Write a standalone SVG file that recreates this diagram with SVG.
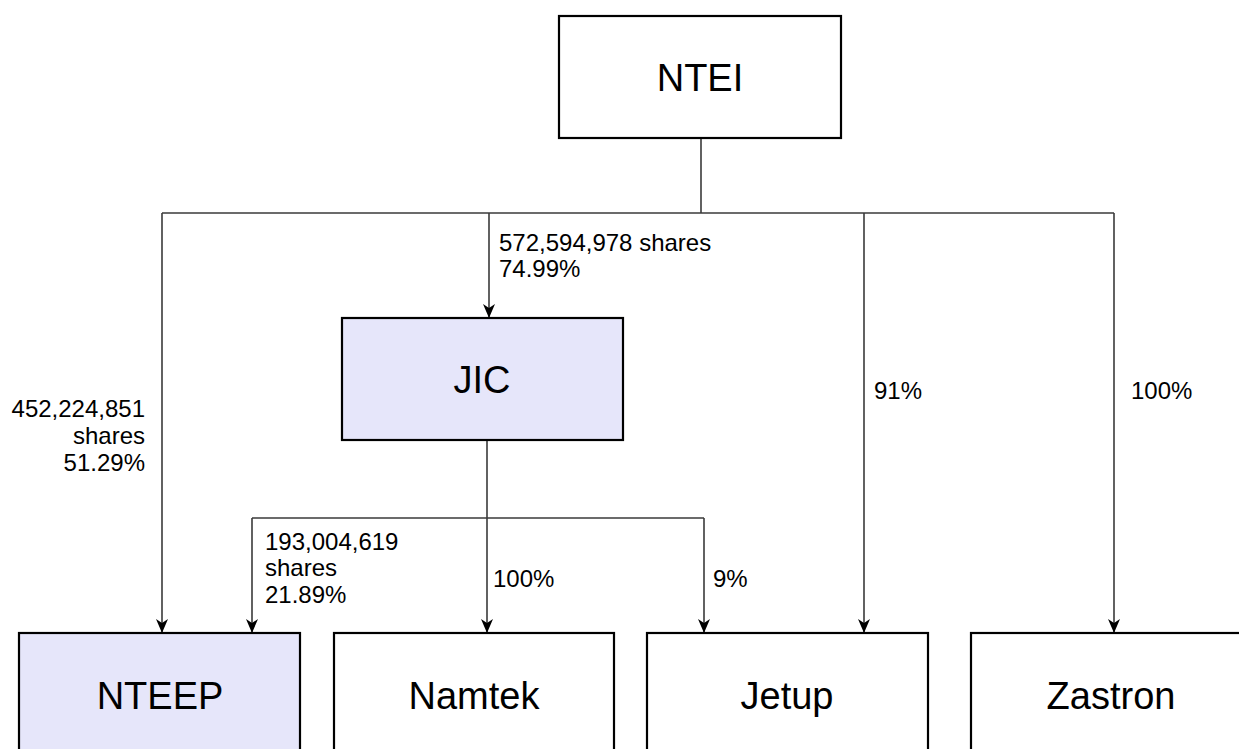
<svg xmlns="http://www.w3.org/2000/svg" width="1239" height="749" viewBox="0 0 1239 749">
<style>
.box{stroke:#000;stroke-width:2.2;}
.plain{fill:#fff;}
.hl{fill:#e6e6fa;}
.name{font-family:"Liberation Sans",Arial,sans-serif;font-size:38px;fill:#000;text-anchor:middle;}
.lbl{font-family:"Liberation Sans",Arial,sans-serif;font-size:24px;fill:#000;}
.con{fill:none;stroke:#3a3a3a;stroke-width:1.6;}
</style>
<defs>
<marker id="arr" viewBox="0 0 14 12" refX="13" refY="6" markerWidth="14" markerHeight="12" markerUnits="userSpaceOnUse" orient="auto">
<path d="M0,0 L14,6 L0,12 L4,6 Z" fill="#000"/>
</marker>
</defs>
<rect width="1239" height="749" fill="#fff"/>
<g id="connectors">
<path class="con" d="M701,138 V213"/>
<path class="con" d="M162,213 H1114"/>
<path class="con" d="M162,213 V632" marker-end="url(#arr)"/>
<path class="con" d="M489,213 V317" marker-end="url(#arr)"/>
<path class="con" d="M864,213 V632" marker-end="url(#arr)"/>
<path class="con" d="M1114,213 V632" marker-end="url(#arr)"/>
<path class="con" d="M487,440 V632" marker-end="url(#arr)"/>
<path class="con" d="M252,518 H704"/>
<path class="con" d="M252,518 V632" marker-end="url(#arr)"/>
<path class="con" d="M704,518 V632" marker-end="url(#arr)"/>
<text class="lbl" x="499" y="251">572,594,978 shares</text>
<text class="lbl" x="499" y="277">74.99%</text>
<text class="lbl" x="145" y="417" text-anchor="end">452,224,851</text>
<text class="lbl" x="145" y="444" text-anchor="end">shares</text>
<text class="lbl" x="145" y="471" text-anchor="end">51.29%</text>
<text class="lbl" x="265" y="550">193,004,619</text>
<text class="lbl" x="265" y="576">shares</text>
<text class="lbl" x="265" y="603">21.89%</text>
<text class="lbl" x="493" y="587">100%</text>
<text class="lbl" x="713" y="587">9%</text>
<text class="lbl" x="874" y="399">91%</text>
<text class="lbl" x="1131" y="399">100%</text>
</g>
<g id="NTEI">
<rect class="box plain" x="559" y="16" width="282" height="122"/>
<text class="name" x="700" y="91">NTEI</text>
</g>
<g id="JIC">
<rect class="box hl" x="342" y="318" width="281" height="122"/>
<text class="name" x="482" y="393">JIC</text>
</g>
<g id="NTEEP">
<rect class="box hl" x="19" y="633" width="281" height="130"/>
<text class="name" x="160" y="709">NTEEP</text>
</g>
<g id="Namtek">
<rect class="box plain" x="334" y="633" width="280" height="130"/>
<text class="name" x="474" y="709">Namtek</text>
</g>
<g id="Jetup">
<rect class="box plain" x="647" y="633" width="281" height="130"/>
<text class="name" x="787" y="709">Jetup</text>
</g>
<g id="Zastron">
<rect class="box plain" x="971" y="633" width="281" height="130"/>
<text class="name" x="1111" y="709">Zastron</text>
</g>
</svg>
